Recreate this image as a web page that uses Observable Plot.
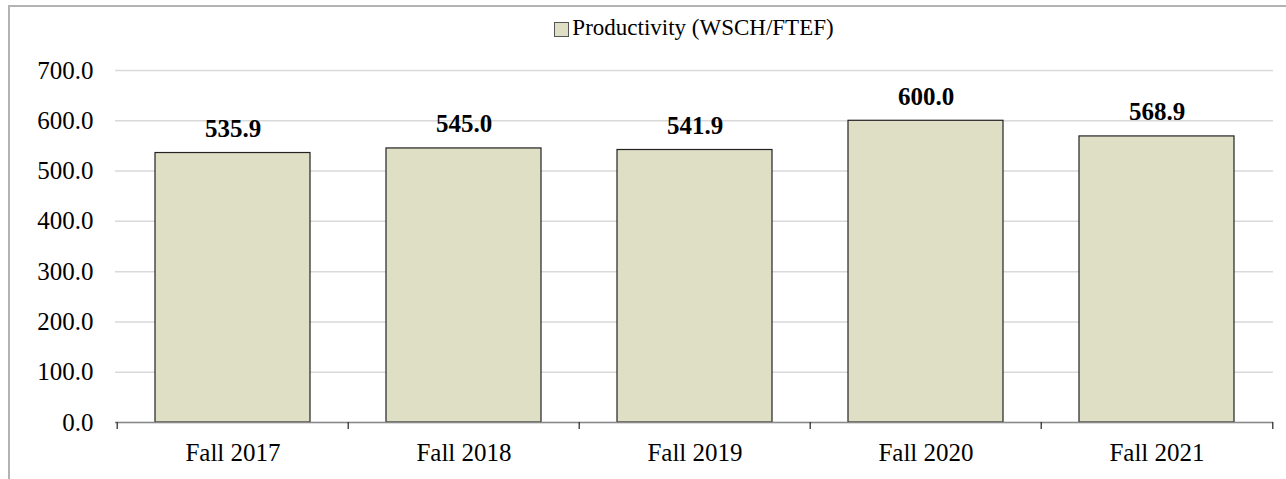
<!DOCTYPE html>
<html>
<head>
<meta charset="utf-8">
<script src="https://cdn.jsdelivr.net/npm/d3@7"></script>
<script src="https://cdn.jsdelivr.net/npm/@observablehq/plot@0.6"></script>
<style>
  html, body { margin: 0; padding: 0; background: #fff; }
  #wrap { position: relative; width: 1286px; height: 479px; overflow: hidden; font-family: "Liberation Serif", "Times New Roman", serif; }
  #frame { position: absolute; left: 8px; top: 5px; width: 2000px; height: 1000px; border-top: 2px solid #b3b3b3; border-left: 2px solid #b3b3b3; box-sizing: border-box; }
  #legend { position: relative; height: 48px; box-sizing: border-box; padding-top: 16px; padding-left: 102px; display: flex; justify-content: center; align-items: flex-start; font-size: 23px; line-height: 23px; color: #000; }
  #legend .sw { width: 13px; height: 13px; border: 1px solid #555; background: #dfdfc6; margin-right: 3px; margin-top: 6px; }
  #chart { position: relative; }
</style>
</head>
<body>
<div id="wrap">
  <div id="frame"></div>
  <div id="legend"><span class="sw"></span><span id="legtext"></span></div>
  <div id="chart"></div>
</div>
<script>
const categories = ["Fall 2017", "Fall 2018", "Fall 2019", "Fall 2020", "Fall 2021"];
const productivity = [535.9, 545.0, 541.9, 600.0, 568.9];
const seriesName = "Productivity (WSCH/FTEF)";
const yTicks = [0, 100, 200, 300, 400, 500, 600, 700];

const data = categories.map((c, i) => ({cat: c, value: productivity[i]}));
document.getElementById("legtext").textContent = seriesName;

const W = 1286, H = 431;
const mL = 115, mR = 13, mT = 22, mB = 57;
const step = (W - mL - mR) / categories.length;

const chart = Plot.plot({
  width: W,
  height: H,
  marginLeft: mL,
  marginRight: mR,
  marginTop: mT,
  marginBottom: mB,
  style: {fontFamily: '"Liberation Serif", "Times New Roman", serif', fontSize: "25px", color: "#000", background: "transparent"},
  x: {domain: categories, paddingInner: 0.33, paddingOuter: 0.165, label: null},
  y: {domain: [0, 700], label: null},
  marks: [
    Plot.gridY(yTicks, {stroke: "#d9d9d9", strokeOpacity: 1, strokeWidth: 1.5}),
    Plot.axisY(yTicks, {tickSize: 0, tickPadding: 22, tickFormat: d3.format(".1f"), label: null, fontSize: 25}),
    Plot.axisX({tickSize: 0, tickPadding: 21, label: null, fontSize: 25}),
    Plot.barY(data, {x: "cat", y: "value", fill: "#dfdfc6", stroke: "#222", strokeWidth: 1.2}),
    Plot.ruleY([0], {stroke: "#8a8a8a", strokeWidth: 1.5}),
    Plot.ruleX(categories, {x: d => d, y1: 0, y2: 0, insetBottom: -7, dx: -step / 2, stroke: "#222", strokeWidth: 1.2}),
    Plot.ruleX([categories[categories.length - 1]], {x: d => d, y1: 0, y2: 0, insetBottom: -7, dx: step / 2, stroke: "#222", strokeWidth: 1.2}),
    Plot.text(data, {x: "cat", y: "value", text: d => d3.format(".1f")(d.value), lineAnchor: "bottom", dy: -16, fontWeight: "bold", fontSize: 25, fill: "#000"})
  ]
});
document.getElementById("chart").appendChild(chart);
</script>
</body>
</html>
